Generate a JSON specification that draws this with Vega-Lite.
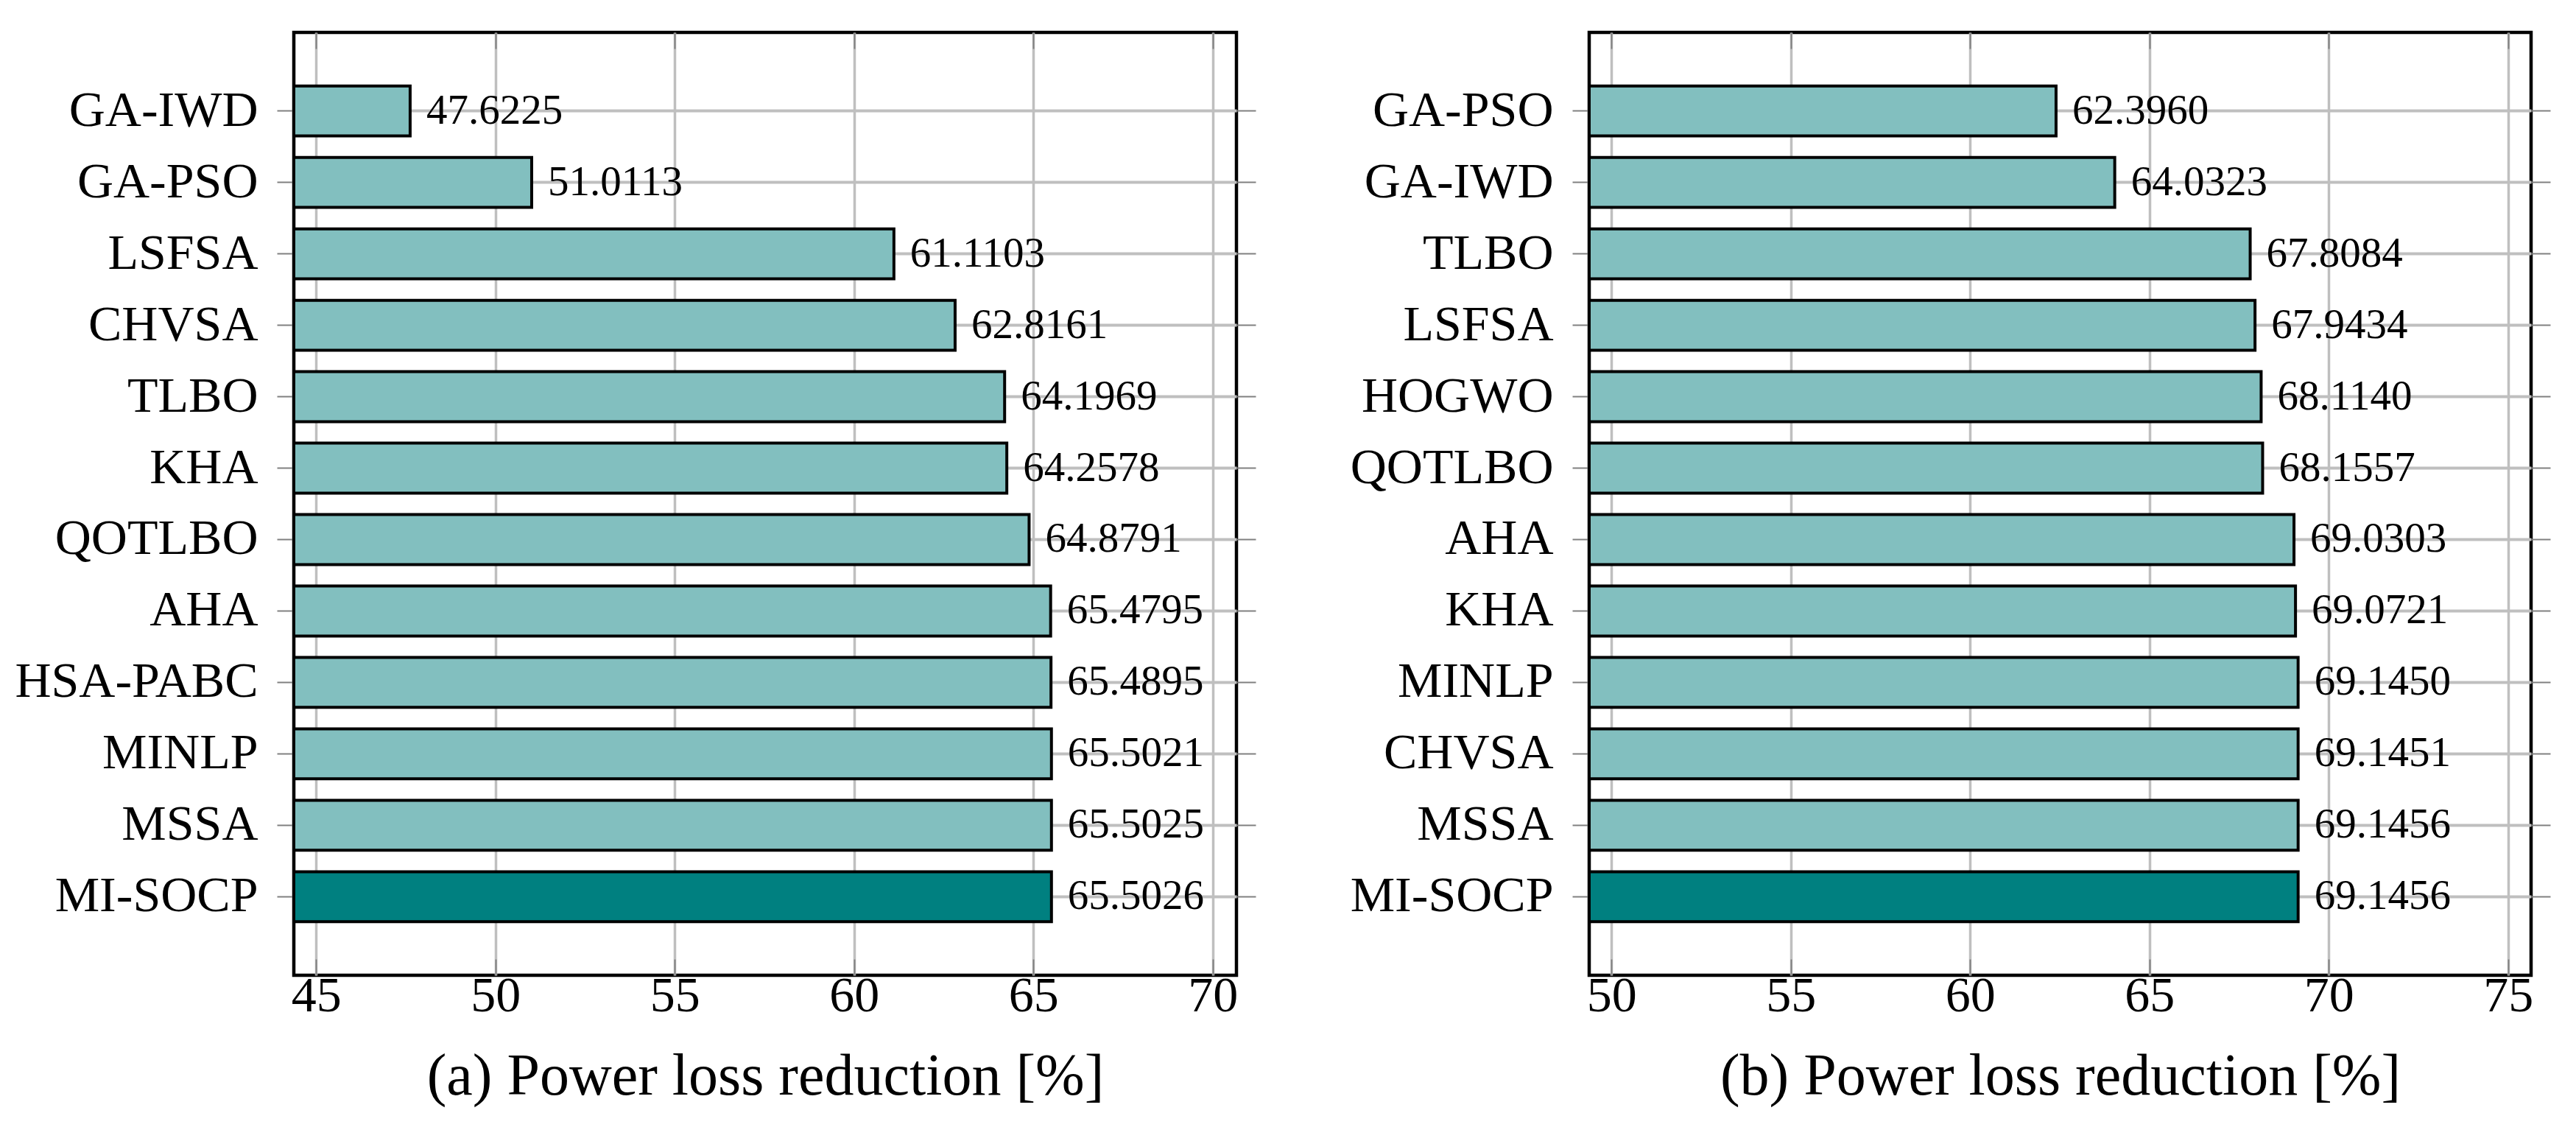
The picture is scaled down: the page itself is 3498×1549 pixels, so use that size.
{
  "$schema": "https://vega.github.io/schema/vega-lite/v6.json",
  "background": "white",
  "padding": {"left": 17, "top": 40, "right": 0, "bottom": 0},
  "autosize": {"type": "pad"},
  "spacing": 121,
  "datasets": {
    "a": [
      {"method": "GA-IWD", "value": 47.6225},
      {"method": "GA-PSO", "value": 51.0113},
      {"method": "LSFSA", "value": 61.1103},
      {"method": "CHVSA", "value": 62.8161},
      {"method": "TLBO", "value": 64.1969},
      {"method": "KHA", "value": 64.2578},
      {"method": "QOTLBO", "value": 64.8791},
      {"method": "AHA", "value": 65.4795},
      {"method": "HSA-PABC", "value": 65.4895},
      {"method": "MINLP", "value": 65.5021},
      {"method": "MSSA", "value": 65.5025},
      {"method": "MI-SOCP", "value": 65.5026}
    ],
    "b": [
      {"method": "GA-PSO", "value": 62.396},
      {"method": "GA-IWD", "value": 64.0323},
      {"method": "TLBO", "value": 67.8084},
      {"method": "LSFSA", "value": 67.9434},
      {"method": "HOGWO", "value": 68.114},
      {"method": "QOTLBO", "value": 68.1557},
      {"method": "AHA", "value": 69.0303},
      {"method": "KHA", "value": 69.0721},
      {"method": "MINLP", "value": 69.145},
      {"method": "CHVSA", "value": 69.1451},
      {"method": "MSSA", "value": 69.1456},
      {"method": "MI-SOCP", "value": 69.1456}
    ]
  },
  "hconcat": [
    {
      "width": 1280,
      "height": 1280,
      "data": {"name": "a"},
      "resolve": {"axis": {"x": "independent", "y": "independent"}},
      "layer": [
        {
          "mark": {"type": "bar", "stroke": "black", "strokeWidth": 4},
          "encoding": {
            "y": {
              "field": "method", "type": "nominal", "sort": null,
              "scale": {"paddingInner": 0.3, "paddingOuter": 0.75},
              "axis": {"orient": "left", "title": null, "domain": false, "grid": true, "gridColor": "#bfbfbf", "gridWidth": 4, "tickSize": 23, "tickColor": "#808080", "tickWidth": 2, "labelPadding": 26, "labelFontSize": 68, "labelLimit": 0, "labelFont": "Liberation Serif", "labelColor": "black"}
            },
            "x": {
              "field": "value", "type": "quantitative",
              "scale": {"domain": [44.38, 70.66], "nice": false, "zero": false},
              "axis": {"orient": "bottom", "values": [45, 50, 55, 60, 65, 70], "domain": false, "grid": true, "gridColor": "#bfbfbf", "gridWidth": 3.5, "tickSize": -22, "tickColor": "#808080", "tickWidth": 2, "labelPadding": 16, "labelFontSize": 68, "labelFont": "Liberation Serif", "labelColor": "black", "title": "(a) Power loss reduction [%]", "titleFont": "Liberation Serif", "titleFontSize": 80, "titleFontWeight": "normal", "titleColor": "black", "titlePadding": 36, "titleLimit": 0}
            },
            "x2": {"datum": 44.38},
            "color": {
              "condition": {"test": "datum.method === 'MI-SOCP'", "value": "#008080"},
              "value": "#82bfbf"
            }
          }
        },
        {
          "mark": {"type": "text", "align": "left", "baseline": "middle", "dx": 22, "font": "Liberation Serif", "fontSize": 57, "color": "black"},
          "encoding": {
            "y": {
              "field": "method", "type": "nominal", "sort": null,
              "axis": {"orient": "right", "title": null, "domain": false, "grid": false, "labels": false, "tickSize": 26, "tickColor": "#808080", "tickWidth": 2}
            },
            "x": {
              "field": "value", "type": "quantitative",
              "axis": {"orient": "top", "values": [45, 50, 55, 60, 65, 70], "domain": false, "grid": false, "labels": false, "tickSize": -22, "tickColor": "#808080", "tickWidth": 2, "title": null}
            },
            "text": {"field": "value", "type": "quantitative", "format": ".4f"}
          }
        }
      ]
    },
    {
      "width": 1279,
      "height": 1280,
      "data": {"name": "b"},
      "resolve": {"axis": {"x": "independent", "y": "independent"}},
      "layer": [
        {
          "mark": {"type": "bar", "stroke": "black", "strokeWidth": 4},
          "encoding": {
            "y": {
              "field": "method", "type": "nominal", "sort": null,
              "scale": {"paddingInner": 0.3, "paddingOuter": 0.75},
              "axis": {"orient": "left", "title": null, "domain": false, "grid": true, "gridColor": "#bfbfbf", "gridWidth": 4, "tickSize": 23, "tickColor": "#808080", "tickWidth": 2, "labelPadding": 26, "labelFontSize": 68, "labelLimit": 0, "labelFont": "Liberation Serif", "labelColor": "black"}
            },
            "x": {
              "field": "value", "type": "quantitative",
              "scale": {"domain": [49.38, 75.64], "nice": false, "zero": false},
              "axis": {"orient": "bottom", "values": [50, 55, 60, 65, 70, 75], "domain": false, "grid": true, "gridColor": "#bfbfbf", "gridWidth": 3.5, "tickSize": -22, "tickColor": "#808080", "tickWidth": 2, "labelPadding": 16, "labelFontSize": 68, "labelFont": "Liberation Serif", "labelColor": "black", "title": "(b) Power loss reduction [%]", "titleFont": "Liberation Serif", "titleFontSize": 80, "titleFontWeight": "normal", "titleColor": "black", "titlePadding": 36, "titleLimit": 0}
            },
            "x2": {"datum": 49.38},
            "color": {
              "condition": {"test": "datum.method === 'MI-SOCP'", "value": "#008080"},
              "value": "#82bfbf"
            }
          }
        },
        {
          "mark": {"type": "text", "align": "left", "baseline": "middle", "dx": 22, "font": "Liberation Serif", "fontSize": 57, "color": "black"},
          "encoding": {
            "y": {
              "field": "method", "type": "nominal", "sort": null,
              "axis": {"orient": "right", "title": null, "domain": false, "grid": false, "labels": false, "tickSize": 26, "tickColor": "#808080", "tickWidth": 2}
            },
            "x": {
              "field": "value", "type": "quantitative",
              "axis": {"orient": "top", "values": [50, 55, 60, 65, 70, 75], "domain": false, "grid": false, "labels": false, "tickSize": -22, "tickColor": "#808080", "tickWidth": 2, "title": null}
            },
            "text": {"field": "value", "type": "quantitative", "format": ".4f"}
          }
        }
      ]
    }
  ],
  "config": {
    "view": {"stroke": "black", "strokeWidth": 4.5},
    "font": "Liberation Serif"
  }
}
